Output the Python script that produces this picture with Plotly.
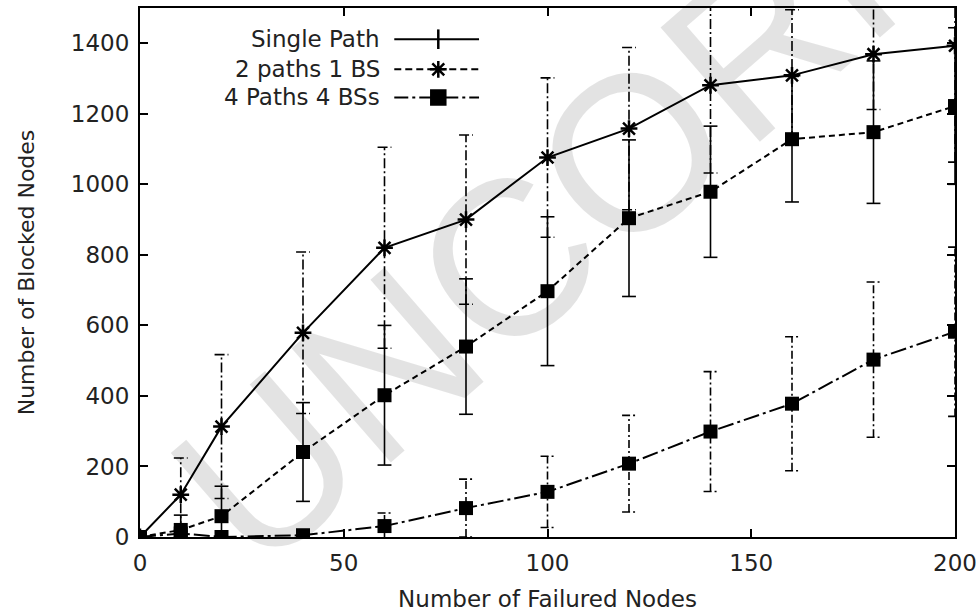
import plotly.graph_objects as go

# ---- data ----
failed_nodes = [0, 10, 20, 40, 60, 80, 100, 120, 140, 160, 180, 200]

single_path = [0, 120, 313, 579, 820, 900, 1076, 1158, 1281, 1309, 1369, 1393]
single_path_err = [0, 104, 204, 229, 285, 240, 226, 230, 249, 186, 157, 330]

two_paths = [0, 20, 59, 241, 402, 540, 697, 904, 979, 1128, 1148, 1222]
two_paths_err = [0, 42, 85, 140, 198, 192, 211, 222, 186, 178, 202, 222]

four_paths = [0, 10, 0, 5, 31, 82, 128, 208, 299, 378, 503, 582]
four_paths_err = [0, 10, 0, 5, 37, 82, 101, 137, 170, 190, 220, 240]

series_names = ["Single Path", "2 paths 1 BS", "4 Paths 4 BSs"]
x_ticks = [0, 50, 100, 150, 200]
y_ticks = [0, 200, 400, 600, 800, 1000, 1200, 1400]

# ---- styles ----
FONT = "DejaVu Sans"
CAP = 1.7  # half cap width in x units
LW = 2

fig = go.Figure()


def err_bars(xs, ys, es, dash):
    bx, by = [], []
    for xv, yv, ev in zip(xs, ys, es):
        if ev <= 0:
            continue
        lo, hi = yv - ev, yv + ev
        bx += [xv, xv, None, xv - CAP, xv + CAP, None, xv - CAP, xv + CAP, None]
        by += [lo, hi, None, lo, lo, None, hi, hi, None]
    fig.add_trace(go.Scatter(x=bx, y=by, mode="lines", showlegend=False,
                             hoverinfo="skip",
                             line=dict(color="black", width=1.6, dash=dash)))


err_bars(failed_nodes, single_path, single_path_err, "10px,3px,2px,3px")
err_bars(failed_nodes, two_paths, two_paths_err, "solid")
err_bars(failed_nodes, four_paths, four_paths_err, "8px,3px,2px,3px")

fig.add_trace(go.Scatter(
    x=failed_nodes, y=four_paths, mode="lines+markers", showlegend=False,
    line=dict(color="black", width=LW, dash="16px,4px,3px,4px"),
    marker=dict(symbol="square", size=14, color="black")))
fig.add_trace(go.Scatter(
    x=failed_nodes, y=two_paths, mode="lines+markers", showlegend=False,
    line=dict(color="black", width=LW, dash="6px,4px"),
    marker=dict(symbol="square", size=14, color="black")))
fig.add_trace(go.Scatter(
    x=failed_nodes, y=single_path, mode="lines+markers", showlegend=False,
    line=dict(color="black", width=LW),
    marker=dict(symbol="asterisk-open", size=14,
                line=dict(color="black", width=2.5))))

# ---- custom legend (text left, sample right, like gnuplot) ----
leg_rows_y = [0.941, 0.884, 0.831]
leg_x0, leg_x1, leg_xm, leg_text_x = 0.312, 0.416, 0.366, 0.297
leg_dash = ["solid", "7px,4px", "14px,4px,3px,4px"]
leg_sym = ["line-ns-open", "asterisk-open", "square"]
for name, yy, dsh, sym in zip(series_names, leg_rows_y, leg_dash, leg_sym):
    fig.add_trace(go.Scatter(x=[leg_x0, leg_x1], y=[yy, yy], mode="lines",
                             xaxis="x2", yaxis="y2", showlegend=False,
                             hoverinfo="skip",
                             line=dict(color="black", width=LW, dash=dsh)))
    fig.add_trace(go.Scatter(x=[leg_xm], y=[yy], mode="markers",
                             xaxis="x2", yaxis="y2", showlegend=False,
                             hoverinfo="skip",
                             marker=dict(symbol=sym, size=14, color="black",
                                         line=dict(color="black", width=2.5))))
    fig.add_annotation(x=leg_text_x, y=yy, xref="paper", yref="paper",
                       text=name, showarrow=False, xanchor="right",
                       yanchor="middle",
                       font=dict(family=FONT, size=23, color="#222"))

# ---- watermark (translucent, so black marks stay black underneath) ----
fig.add_annotation(x=0.875, y=1.09, xref="paper", yref="paper",
                   text="UNCORRECTED", showarrow=False, textangle=-41,
                   xanchor="center", yanchor="middle",
                   font=dict(family="Liberation Sans", size=220,
                             color="rgba(0,0,0,0.11)"))

axis_common = dict(showline=True, linecolor="black", linewidth=2,
                   mirror="ticks", ticks="inside", ticklen=8, tickwidth=1.6,
                   tickcolor="black", showgrid=False, zeroline=False,
                   automargin=False,
                   tickfont=dict(family=FONT, size=23, color="#222"))

fig.update_layout(
    width=979, height=612,
    margin=dict(l=140, r=24, t=8, b=75),
    paper_bgcolor="white", plot_bgcolor="white",
    xaxis=dict(range=[0, 200], tickvals=x_ticks,
               title=dict(text="Number of Failured Nodes", standoff=17,
                          font=dict(family=FONT, size=23, color="#222")),
               ticklabelstandoff=4, **axis_common),
    yaxis=dict(range=[0, 1500], tickvals=y_ticks,
               title=dict(text="Number of Blocked Nodes", standoff=30,
                          font=dict(family=FONT, size=22, color="#222")),
               ticklabelstandoff=4, **axis_common),
    xaxis2=dict(range=[0, 1], overlaying="x", visible=False),
    yaxis2=dict(range=[0, 1], overlaying="y", visible=False),
    showlegend=False,
)

fig.write_html("out.html")
